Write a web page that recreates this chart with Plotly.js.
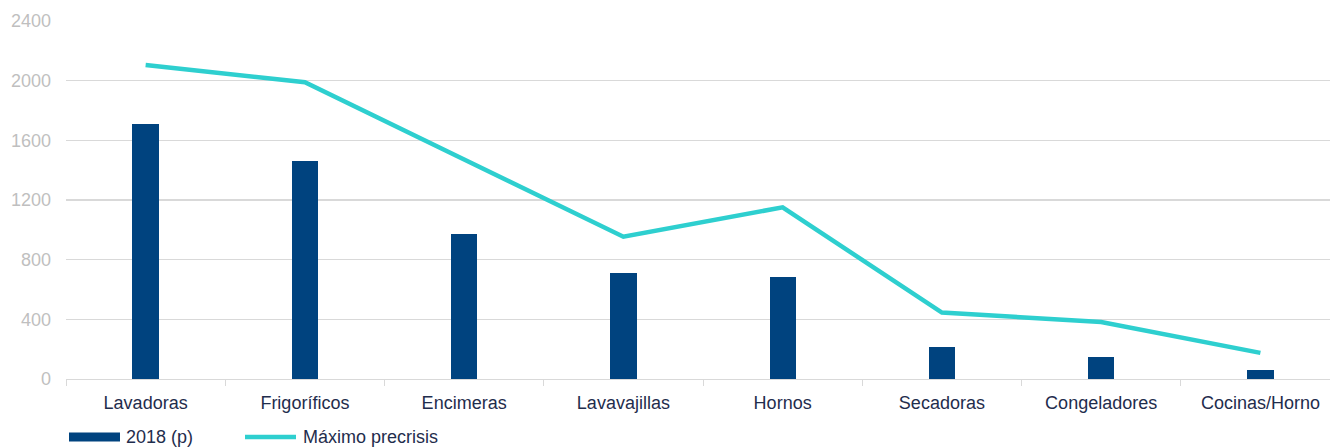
<!DOCTYPE html>
<html>
<head>
<meta charset="utf-8">
<script src="https://cdn.plot.ly/plotly-3.0.1.min.js"></script>
<style>html,body{margin:0;padding:0;background:#fff;overflow:hidden}</style>
</head>
<body>
<div id="chart" style="width:1330px;height:448px"></div>
<script>
const categories = ["Lavadoras","Frigoríficos","Encimeras","Lavavajillas","Hornos","Secadoras","Congeladores","Cocinas/Horno"];
const values2018 = [1712, 1462, 974, 708, 683, 215, 148, 58];
const maximoPrecrisis = [2105, 1989, 1471, 954, 1151, 445, 382, 175];
const yTicks = [0, 400, 800, 1200, 1600, 2000, 2400];
const seriesNames = ["2018 (p)", "Máximo precrisis"];
const barColor = "#00437F";
const lineColor = "#2ECFCF";

const W = 1330, H = 448;
const M = {l: 66, r: 0, t: 21, b: 69};
const plotW = W - M.l - M.r, plotH = H - M.t - M.b;
const px = x => (x - M.l) / plotW;          // pixel -> paper x
const py = y => (H - M.b - y) / plotH;      // pixel -> paper y

const traces = [
  {
    type: "bar",
    name: seriesNames[0],
    x: categories,
    y: values2018,
    width: 0.165,
    marker: {color: barColor, line: {width: 0}},
    showlegend: false
  },
  {
    type: "scatter",
    mode: "lines",
    name: seriesNames[1],
    x: categories,
    y: maximoPrecrisis,
    line: {color: lineColor, width: 4.5},
    showlegend: false
  }
];

// legend drawn as layout decoration (symbol shapes + text annotations)
const legendY = 437;
const shapes = [
  {type: "rect", xref: "paper", yref: "paper",
   x0: px(69), x1: px(120), y0: py(legendY + 4.5), y1: py(legendY - 4.5),
   fillcolor: barColor, line: {width: 0}},
  {type: "line", xref: "paper", yref: "paper",
   x0: px(245), x1: px(296), y0: py(legendY), y1: py(legendY),
   line: {color: lineColor, width: 4.5}}
];
const annotations = [
  {xref: "paper", yref: "paper", x: px(124), y: py(legendY), xanchor: "left", yanchor: "middle",
   text: seriesNames[0], showarrow: false, font: {size: 18, color: "#1F2D4D"}},
  {xref: "paper", yref: "paper", x: px(301), y: py(legendY), xanchor: "left", yanchor: "middle",
   text: seriesNames[1], showarrow: false, font: {size: 18, color: "#1F2D4D"}}
];

const layout = {
  width: W,
  height: H,
  margin: {l: M.l, r: M.r, t: M.t, b: M.b, autoexpand: false},
  paper_bgcolor: "#ffffff",
  plot_bgcolor: "#ffffff",
  font: {family: "Liberation Sans, Arial, sans-serif", size: 18, color: "#1F2D4D"},
  showlegend: false,
  xaxis: {
    type: "category",
    range: [-0.5, 7.437],
    showgrid: false,
    showline: true,
    linecolor: "#D9D9D9",
    linewidth: 1.3,
    ticks: "outside",
    tickson: "boundaries",
    ticklen: 6,
    tickcolor: "#D9D9D9",
    tickfont: {size: 18, color: "#1F2D4D"},
    ticklabelstandoff: 7,
    fixedrange: true
  },
  yaxis: {
    range: [0, 2400],
    tickvals: yTicks,
    showgrid: true,
    gridcolor: "#D9D9D9",
    gridwidth: 1.3,
    zeroline: false,
    showline: false,
    tickfont: {size: 18, color: "#BFBFBF"},
    ticklabelstandoff: 14,
    fixedrange: true
  },
  shapes: shapes,
  annotations: annotations,
  bargap: 0
};

Plotly.newPlot("chart", traces, layout, {displayModeBar: false, staticPlot: true});
</script>
</body>
</html>
